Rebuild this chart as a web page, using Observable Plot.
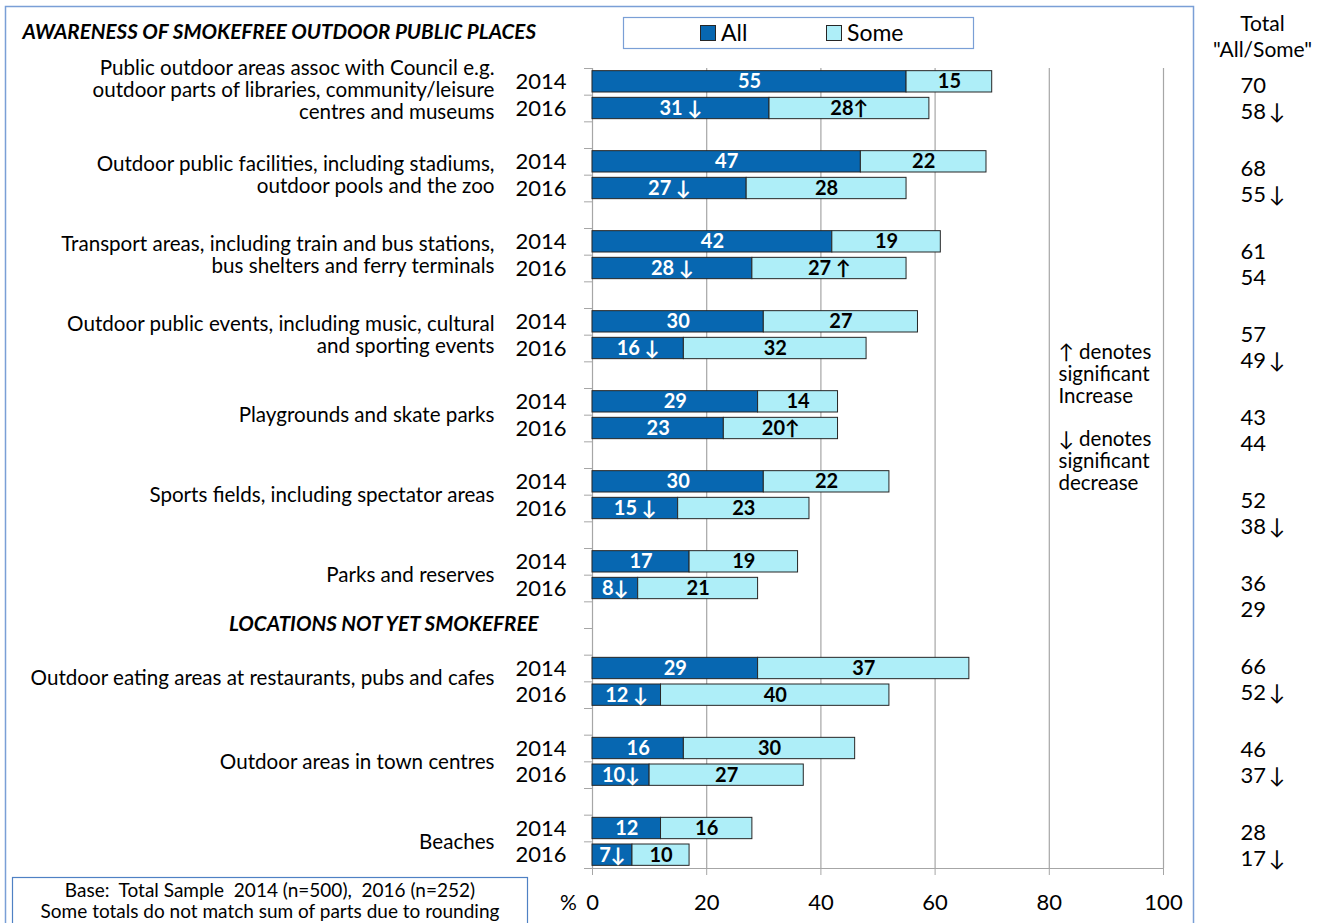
<!DOCTYPE html>
<html><head><meta charset="utf-8">
<script src="https://cdn.jsdelivr.net/npm/d3@7"></script>
<script src="https://cdn.jsdelivr.net/npm/@observablehq/plot@0.6"></script>
<style>body{margin:0;background:#fff;} svg{display:block}</style>
</head><body><div id="chart"></div>
<script>
const categories = [
  "Public outdoor areas assoc with Council e.g.\noutdoor parts of libraries, community/leisure\ncentres and museums",
  "Outdoor public facilities, including stadiums,\noutdoor pools and the zoo",
  "Transport areas, including train and bus stations,\nbus shelters and ferry terminals",
  "Outdoor public events, including music, cultural\nand sporting events",
  "Playgrounds and skate parks",
  "Sports fields, including spectator areas",
  "Parks and reserves",
  "Outdoor eating areas at restaurants, pubs and cafes",
  "Outdoor areas in town centres",
  "Beaches"
];
const years = ["2014", "2016"];
const seriesNames = ["All", "Some"];
const seriesColors = ["#0767b1", "#aeeef8"];
const all2014  = [55, 47, 42, 30, 29, 30, 17, 29, 16, 12];
const some2014 = [15, 22, 19, 27, 14, 22, 19, 37, 30, 16];
const all2016  = [31, 27, 28, 16, 23, 15, 8, 12, 10, 7];
const some2016 = [28, 28, 27, 32, 20, 23, 21, 40, 27, 10];
const total2014 = [70, 68, 61, 57, 43, 52, 36, 66, 46, 28];
const total2016 = [58, 55, 54, 49, 44, 38, 29, 52, 37, 17];
// significance markers for 2016 vs 2014
const allSig2016   = ["down","down","down","down","","down","down","down","down","down"];
const someSig2016  = ["up","","up","","up","","","","",""];
const totalSig2016 = ["down","down","","down","","down","","down","down","down"];
const xTicks = [0, 20, 40, 60, 80, 100];
const heading1 = "AWARENESS OF SMOKEFREE OUTDOOR PUBLIC PLACES";
const heading2 = "LOCATIONS NOT YET SMOKEFREE";
const totalHeader = "Total\n\"All/Some\"";
const noteText = "\u2191 denotes\nsignificant\nIncrease\n\n\u2193 denotes\nsignificant\ndecrease";
const baseText = ["Base:  Total Sample  2014 (n=500),  2016 (n=252)", "Some totals do not match sum of parts due to rounding"];

const FONT = "Lato, 'Open Sans', sans-serif";
const arrow = s => s === "down" ? "\u2193" : s === "up" ? "\u2191" : "";
const lab = (v, s, sep) => s ? `${v}${sep}${arrow(s)}` : String(v);

const rows = [];
categories.forEach((c, g) => {
  const base = g <= 6 ? 3 * g : 3 * g + 1;
  rows.push({g, year: years[0], slot: base, all: all2014[g], some: some2014[g],
    allLab: String(all2014[g]), someLab: String(some2014[g]), total: String(total2014[g]), k: 0});
  rows.push({g, year: years[1], slot: base + 1, all: all2016[g], some: some2016[g],
    allLab: lab(all2016[g], allSig2016[g], all2016[g] >= 10 && g !== 8 ? " " : ""),
    someLab: lab(some2016[g], someSig2016[g], g === 2 ? " " : ""),
    total: lab(total2016[g], totalSig2016[g], "\u2009"), k: 1});
});
const segs = rows.flatMap(r => [
  {...r, series: "All", x1: 0, x2: r.all, label: r.allLab},
  {...r, series: "Some", x1: r.all, x2: r.all + r.some, label: r.someLab}
]);
const groups = categories.map((c, g) => {
  const nLines = c.split("\n").length;
  return {c, center: (g <= 6 ? 3 * g + 1 : 3 * g + 2) - (nLines === 3 ? 0.2 : 0) - (g === 7 ? 0.15 : 0)};
});
// totals column is an evenly spaced text box
const px = 800 / 30;
const totalStep = 83 / px, totalStart = 17 / px;

const gray = "#a6a6a6";
const svg = Plot.plot({
  width: 1336, height: 923,
  marginLeft: 592, marginRight: 173, marginTop: 68, marginBottom: 55,
  style: {fontFamily: FONT, background: "white", color: "#000"},
  x: {domain: [0, 100]},
  y: {domain: [0, 30], reverse: true},
  color: {domain: seriesNames, range: seriesColors},
  marks: [
    Plot.ruleX(xTicks.slice(1), {stroke: gray, strokeWidth: 1.2}),
    Plot.ruleX([0], {stroke: gray, strokeWidth: 1.2}),
    Plot.ruleY([30], {stroke: gray, strokeWidth: 1.2}),
    Plot.axisY({ticks: d3.range(0, 31), tickSize: 8, tickFormat: () => "", stroke: gray, label: null}),
    Plot.axisX({ticks: xTicks, tickSize: 7, tickPadding: 19, fontSize: 22, stroke: gray, label: null}),
    Plot.text(["%"], {x: [0], y: [30], dx: -24, dy: 35, fontSize: 21}),
    Plot.rect(segs, {x1: "x1", x2: "x2", y1: d => d.slot + 0.1, y2: d => d.slot + 0.9,
      fill: "series", stroke: "#262626", strokeWidth: 1}),
    Plot.text(segs, {x: d => (d.x1 + d.x2) / 2, y: d => d.slot + 0.5, text: "label",
      fill: d => d.series === "All" ? "white" : "black", fontWeight: "bold", fontSize: 20}),
    Plot.text(rows, {y: d => d.slot + 0.5, text: "year", frameAnchor: "left", dx: -26,
      textAnchor: "end", fontSize: 22}),
    Plot.text(groups, {y: "center", text: "c", frameAnchor: "left", dx: -98, textAnchor: "end",
      fontSize: 20.6, lineHeight: 1.07}),
    Plot.text([heading1], {y: [-1.35], frameAnchor: "left", dx: -570, textAnchor: "start",
      fontSize: 20.6, fontWeight: "bold", fontStyle: "italic"}),
    Plot.text([heading2], {y: [20.85], frameAnchor: "left", dx: -54, textAnchor: "end",
      fontSize: 20.6, fontWeight: "bold", fontStyle: "italic"}),
    Plot.text([noteText], {y: [10.3], frameAnchor: "right", dx: -105, textAnchor: "start",
      lineAnchor: "top", fontSize: 20.5, lineHeight: 1.07}),
    Plot.text([totalHeader], {y: [-1.22], frameAnchor: "right", dx: 99,
      textAnchor: "middle", lineAnchor: "middle", fontSize: 21, lineHeight: 1.2}),
    Plot.text(rows, {y: d => totalStart + d.g * totalStep + d.k * (26 / px),
      text: "total", frameAnchor: "right", dx: 77, textAnchor: "start", fontSize: 22})
  ]
});

const s = d3.select(svg);
const blue = "#7a9fd6";
s.append("rect").attr("x", 5.5).attr("y", 6.5).attr("width", 1188).attr("height", 940)
  .attr("fill", "none").attr("stroke", blue).attr("stroke-width", 1.5);
// legend
const lg = s.append("g").attr("text-anchor", "start");
lg.append("rect").attr("x", 623.5).attr("y", 17.5).attr("width", 350).attr("height", 31)
  .attr("fill", "white").attr("stroke", blue).attr("stroke-width", 1.2);
const legendItems = [{x: 700, name: seriesNames[0], color: seriesColors[0]}, {x: 826, name: seriesNames[1], color: seriesColors[1]}];
legendItems.forEach(it => {
  lg.append("rect").attr("x", it.x + 0.5).attr("y", 25.5).attr("width", 15).attr("height", 15)
    .attr("fill", it.color).attr("stroke", "#262626");
  lg.append("text").attr("x", it.x + 21).attr("y", 33).attr("dy", "0.35em")
    .attr("text-anchor", "start").attr("font-size", 23).attr("font-family", FONT).text(it.name);
});
// base note
const nb = s.append("g");
nb.append("rect").attr("x", 12.5).attr("y", 877.5).attr("width", 515).attr("height", 60)
  .attr("fill", "white").attr("stroke", "#4f81c4").attr("stroke-width", 1.2);
baseText.forEach((t, i) => {
  nb.append("text").attr("x", 270).attr("y", 890 + i * 21).attr("dy", "0.35em")
    .attr("text-anchor", "middle").attr("font-size", 19).attr("font-family", FONT).text(t);
});
document.getElementById("chart").appendChild(svg);
</script>
</body></html>
